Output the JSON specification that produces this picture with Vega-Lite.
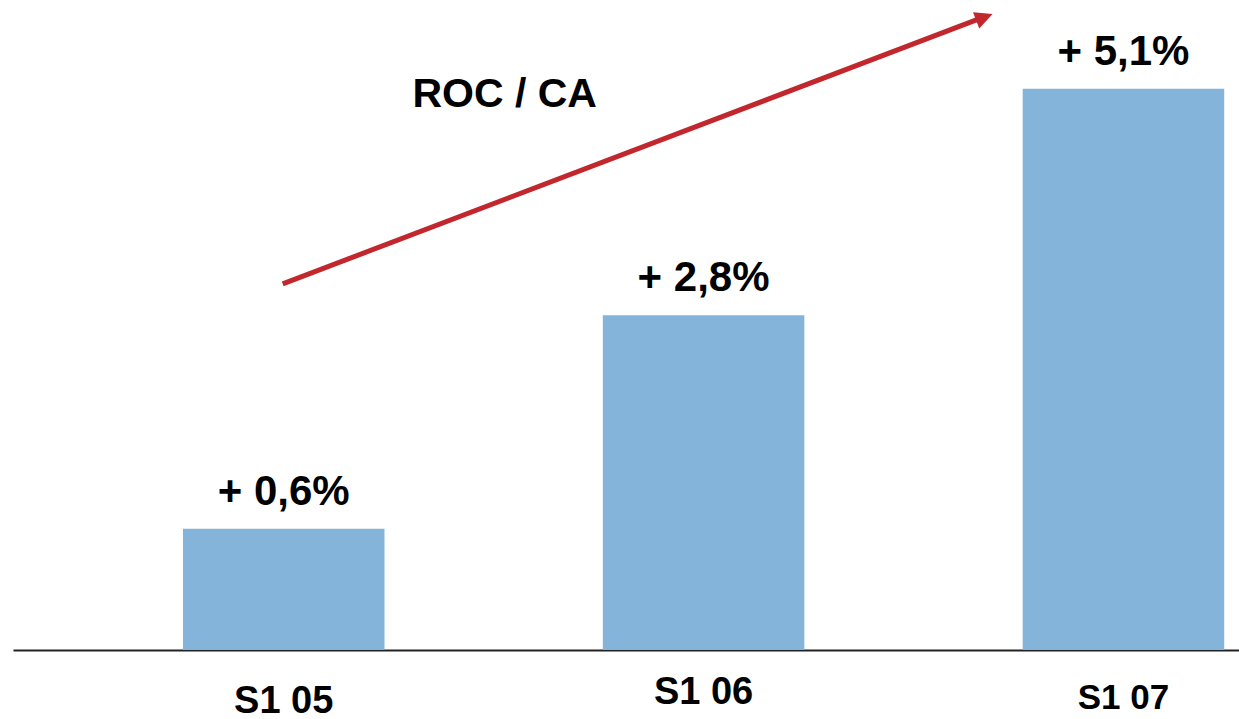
{
  "$schema": "https://vega.github.io/schema/vega-lite/v6.json",
  "width": 1226,
  "height": 650,
  "autosize": "none",
  "padding": {"left": 13, "top": 0, "right": 0, "bottom": 69},
  "background": "white",
  "config": {"view": {"stroke": null}, "font": "Liberation Sans"},
  "datasets": {
    "bars": [
      {"period": "S1 05", "bar": 1.12, "label": "+ 0,6%"},
      {"period": "S1 06", "bar": 3.09, "label": "+ 2,8%"},
      {"period": "S1 07", "bar": 5.18, "label": "+ 5,1%"}
    ],
    "arrow": [
      {"x1": 2.2, "y1": 3.38, "x2": 7.89, "y2": 5.83}
    ],
    "head": [
      {"x": 7.99, "y": 5.87}
    ],
    "title": [
      {"x": 4.01, "y": 5.015, "text": "ROC / CA"}
    ]
  },
  "layer": [
    {
      "data": {"name": "bars"},
      "encoding": {
        "x": {
          "field": "period",
          "type": "nominal",
          "sort": null,
          "scale": {"paddingInner": 0.52, "paddingOuter": 0.22, "align": 0.92},
          "axis": {
            "title": null,
            "ticks": false,
            "domainColor": "#222222",
            "domainWidth": 2,
            "labelFont": "Liberation Sans",
            "labelFontWeight": "bold",
            "labelColor": "#000000",
            "labelAngle": 0,
            "labelFontSize": {"condition": {"test": "datum.value == 'S1 07'", "value": 35}, "value": 38},
            "labelPadding": {"condition": [{"test": "datum.value == 'S1 06'", "value": 23}, {"test": "datum.value == 'S1 07'", "value": 30}], "value": 32}
          }
        },
        "y": {
          "field": "bar",
          "type": "quantitative",
          "scale": {"domain": [0, 6], "nice": false, "zero": true},
          "axis": null
        }
      },
      "layer": [
        {"mark": {"type": "bar", "color": "#84b4da"}},
        {
          "mark": {"type": "text", "baseline": "alphabetic", "align": "center", "dy": -24, "fontSize": 42, "fontWeight": "bold", "font": "Liberation Sans", "color": "#000000"},
          "encoding": {"text": {"field": "label"}}
        }
      ]
    },
    {
      "layer": [
        {
          "data": {"name": "arrow"},
          "mark": {"type": "rule", "color": "#c1272d", "strokeWidth": 5},
          "encoding": {
            "x": {"field": "x1", "type": "quantitative", "scale": {"domain": [0, 10], "nice": false, "zero": false}, "axis": null},
            "y": {"field": "y1", "type": "quantitative"},
            "x2": {"field": "x2"},
            "y2": {"field": "y2"}
          }
        },
        {
          "data": {"name": "head"},
          "mark": {"type": "point", "shape": "M0,0L-2,-1L-2,1Z", "filled": true, "color": "#c1272d", "opacity": 1, "size": 310, "angle": -21},
          "encoding": {
            "x": {"field": "x", "type": "quantitative"},
            "y": {"field": "y", "type": "quantitative"}
          }
        },
        {
          "data": {"name": "title"},
          "mark": {"type": "text", "baseline": "alphabetic", "align": "center", "fontSize": 41, "fontWeight": "bold", "font": "Liberation Sans", "color": "#000000"},
          "encoding": {
            "x": {"field": "x", "type": "quantitative"},
            "y": {"field": "y", "type": "quantitative"},
            "text": {"field": "text"}
          }
        }
      ]
    }
  ],
  "resolve": {"scale": {"x": "independent"}, "axis": {"x": "independent"}}
}
